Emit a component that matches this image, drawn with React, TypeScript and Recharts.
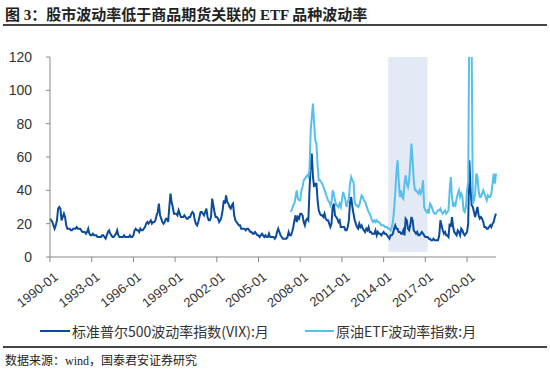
import React from 'react';
import { LineChart, Line, XAxis, YAxis, ReferenceArea } from 'recharts';

// VIX monthly, 1990-01 .. 2022-02
const vix: number[] = [
  23, 22, 21, 19, 17, 19, 22, 29, 30, 29, 22, 24,
  26, 24, 19, 17, 17, 17, 16, 16, 17, 17, 17, 18,
  17, 17, 17, 16, 15, 15, 15, 14, 15, 17, 14, 13,
  13, 14, 13, 13, 13, 12, 12, 12, 12, 13, 13, 12,
  11, 13, 15, 16, 14, 13, 12, 12, 13, 14, 16, 13,
  12, 12, 12, 12, 13, 12, 12, 12, 12, 13, 12, 12,
  13, 16, 17, 16, 16, 15, 17, 16, 16, 17, 18, 20,
  21, 20, 21, 22, 20, 21, 21, 22, 25, 27, 32, 25,
  23, 21, 20, 21, 23, 23, 21, 30, 38, 33, 30, 26,
  26, 26, 25, 28, 26, 24, 24, 24, 25, 24, 23, 23,
  24, 24, 26, 27, 26, 22, 20, 19, 21, 24, 27, 27,
  26, 25, 27, 29, 24, 22, 22, 24, 35, 31, 27, 24,
  24, 23, 21, 22, 24, 28, 34, 32, 37, 33, 32, 30,
  29, 31, 32, 25, 22, 21, 20, 19, 19, 17, 17, 17,
  17, 16, 17, 17, 16, 15, 15, 14, 14, 15, 14, 13,
  13, 12, 13, 14, 13, 12, 13, 12, 12, 14, 12, 12,
  12, 12, 11, 12, 15, 17, 15, 13, 12, 11, 11, 11,
  11, 12, 15, 13, 13, 15, 18, 22, 25, 21, 24, 23,
  26, 26, 25, 21, 19, 22, 23, 22, 40, 55, 62, 48,
  42, 44, 44, 34, 28, 26, 25, 25, 24, 26, 23, 22,
  22, 20, 18, 20, 30, 32, 25, 24, 23, 21, 22, 18,
  18, 18, 18, 16, 16, 18, 22, 33, 36, 30, 26, 22,
  20, 18, 17, 20, 18, 19, 17, 16, 15, 17, 16, 18,
  15, 15, 14, 14, 14, 16, 13, 15, 14, 14, 13, 14,
  15, 14, 14, 13, 12, 11, 13, 13, 14, 17, 19, 17,
  17, 15, 15, 14, 14, 16, 13, 23, 22, 17, 16, 19,
  24, 22, 16, 15, 14, 15, 13, 13, 14, 15, 14, 13,
  12, 12, 12, 11, 11, 10, 10, 11, 10, 10, 10, 10,
  13, 22, 19, 16, 14, 15, 13, 13, 12, 20, 18, 24,
  18, 15, 14, 13, 16, 15, 13, 17, 16, 14, 13, 14,
  15, 20, 58, 41, 31, 30, 27, 24, 27, 30, 25, 23,
  24, 23, 21, 18, 18, 17, 17, 18, 19, 18, 20, 21,
  24, 26,
];

// crude oil ETF volatility, 2007-05 .. 2022-02
const ovxStart = '2007-05';
const ovx: number[] = [
  27, 29, 31, 32, 36, 40, 35, 34,
  34, 40, 42, 46, 47, 48, 49, 48, 52, 75, 84, 92,
  80, 70, 68, 55, 46, 46, 45, 44, 42, 40, 38, 36,
  34, 33, 31, 33, 40, 38, 34, 31, 31, 30, 32, 30,
  34, 39, 37, 34, 30, 33, 35, 44, 48, 46, 45, 33,
  31, 31, 30, 31, 34, 37, 36, 34, 33, 31, 29, 27,
  26, 24, 22, 21, 22, 21, 22, 21, 21, 20, 19, 19,
  19, 18, 18, 18, 17, 17, 16, 18, 21, 28, 38, 50,
  58, 46, 36, 40, 36, 35, 44, 49, 44, 42, 46, 56,
  68, 58, 46, 40, 40, 39, 38, 40, 38, 40, 46, 30,
  28, 27, 28, 26, 32, 31, 29, 27, 26, 26, 27, 28,
  28, 29, 27, 26, 27, 28, 26, 27, 28, 40, 48, 36,
  30, 32, 31, 35, 38, 40, 36, 38, 36, 28, 27, 30,
  40, 45, 150, 170, 125, 32, 34, 38, 50, 48, 40, 36,
  36, 38, 40, 38, 36, 34, 37, 36, 36, 38, 44, 50,
  44, 50,
];

const yTicks = [0, 20, 40, 60, 80, 100, 120];
const shade = { from: '2014-05', to: '2017-03' };

const months = vix.map((_, i) => {
  const y = 1990 + Math.floor(i / 12);
  const m = (i % 12) + 1;
  return `${y}-${m < 10 ? '0' + m : m}`;
});

const startIdx = months.indexOf(ovxStart);
const data = months.map((month, i) => ({
  month,
  vix: vix[i],
  ovx: i >= startIdx ? ovx[i - startIdx] : null,
}));

const DARK = '#0b4c9a';
const LIGHT = '#55bfee';

const XTick = (props: any) => {
  const { x, y, payload } = props;
  const px = x + 3;
  const py = y + 7;
  return (
    <text
      x={px}
      y={py}
      transform={`rotate(-38, ${px}, ${py})`}
      textAnchor="end"
      dominantBaseline="hanging"
      fontSize={13}
      fontFamily="'Liberation Sans', Arial, sans-serif"
      fill="#333"
    >
      {payload.value}
    </text>
  );
};

const LegendItem = ({ color, label, left, lineW }: { color: string; label: string; left: number; lineW: number }) => (
  <div style={{ position: 'absolute', left, top: 322, display: 'flex', alignItems: 'center', height: 18 }}>
    <div style={{ width: lineW, height: 2, background: color, marginRight: 2 }} />
    <span style={{ fontSize: 14, color: '#333', fontFamily: "'Noto Sans CJK SC', sans-serif", whiteSpace: 'nowrap' }}>{label}</span>
  </div>
);

export default function App() {
  return (
    <div style={{ position: 'absolute', left: 0, top: 0, width: 550, height: 373, background: '#fff', overflow: 'hidden' }}>
      <div style={{ position: 'absolute', left: 5, top: 3, fontSize: 15, fontWeight: 700, color: '#222', fontFamily: "'Liberation Serif', 'Noto Sans CJK SC', serif", whiteSpace: 'nowrap' }}>
        图 3：股市波动率低于商品期货关联的 ETF 品种波动率
      </div>
      <div style={{ position: 'absolute', left: 3, top: 24, width: 544, height: 2, background: '#444' }} />

      <div style={{ position: 'absolute', left: 0, top: 0 }}>
        <LineChart width={550} height={320} data={data} margin={{ top: 57, right: 54, left: 0, bottom: 0 }}>
          <ReferenceArea x1={shade.from} x2={shade.to} y1={3} y2={120} fill="#e3eaf5" fillOpacity={1} stroke="none" ifOverflow="hidden" />
          <XAxis
            dataKey="month"
            interval={35}
            height={63}
            tick={<XTick />}
            tickSize={5}
            stroke="#888"
            axisLine={{ stroke: '#888' }}
            tickLine={{ stroke: '#888' }}
          />
          <YAxis
            width={50}
            domain={[0, 120]}
            ticks={yTicks}
            allowDataOverflow
            tickSize={4}
            tickMargin={14}
            stroke="#888"
            tick={{ fill: '#333', fontSize: 14, fontFamily: "'Liberation Sans', Arial, sans-serif" }}
          />
          <Line type="linear" dataKey="vix" stroke={DARK} strokeWidth={2} dot={false} isAnimationActive={false} />
          <Line type="linear" dataKey="ovx" stroke={LIGHT} strokeWidth={2} dot={false} isAnimationActive={false} connectNulls={false} />
        </LineChart>
      </div>

      <LegendItem color={DARK} label="标准普尔500波动率指数(VIX):月" left={40} lineW={30} />
      <LegendItem color={LIGHT} label="原油ETF波动率指数:月" left={305} lineW={29} />

      <div style={{ position: 'absolute', left: 3, top: 346, width: 544, height: 2, background: '#444' }} />
      <div style={{ position: 'absolute', left: 5, top: 351, fontSize: 12, color: '#222', fontFamily: "'Liberation Serif', 'Noto Sans CJK SC', serif", whiteSpace: 'nowrap' }}>
        数据来源：wind，国泰君安证券研究
      </div>
    </div>
  );
}
